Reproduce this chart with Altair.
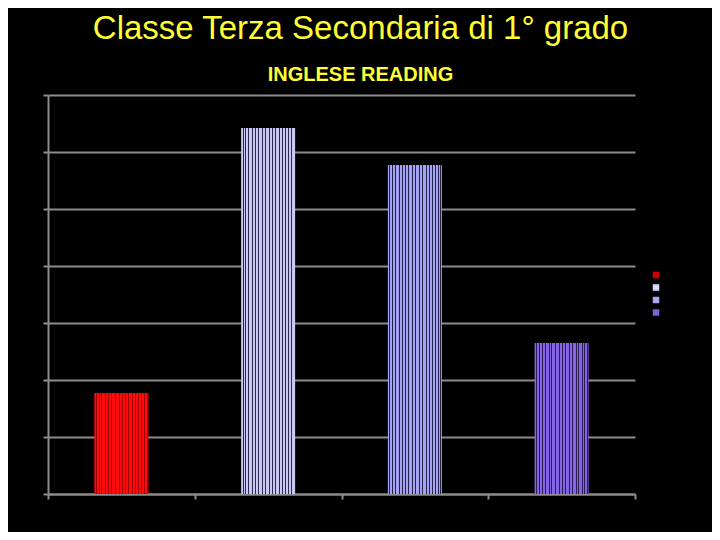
import altair as alt
import pandas as pd

categories = ["Classe", "Scuola", "Regione", "Italia"]
values = [17.7, 64.2, 57.7, 26.5]
bar_colors = ["#ff0a0a", "#c8c8f2", "#a4a4f2", "#8466e4"]
stripe_colors = ["#a00000", "#2a2a50", "#22224a", "#2a1a58"]
legend_colors = ["#d00000", "#d8d8fa", "#a8a8f0", "#8062d4"]

df = pd.DataFrame({"cat": categories, "val": values})

# stripe layout within each bar (styling only)
stripe_pos = [0.03, 0.08, 0.13, 0.2, 0.26, 0.31, 0.38, 0.45, 0.51, 0.57, 0.63, 0.7,
              0.76, 0.81, 0.87, 0.92, 0.97]
stripe_w = 0.018


def gradient(base, dark):
    stops = [alt.GradientStop(offset=0, color=base)]
    for p in stripe_pos:
        stops += [
            alt.GradientStop(offset=p, color=base),
            alt.GradientStop(offset=p, color=dark),
            alt.GradientStop(offset=p + stripe_w, color=dark),
            alt.GradientStop(offset=p + stripe_w, color=base),
        ]
    stops.append(alt.GradientStop(offset=1, color=base))
    return alt.LinearGradient(gradient="linear", x1=0, x2=1, y1=0, y2=0, stops=stops)


x_enc = alt.X(
    "cat:N", sort=categories, title=None,
    scale=alt.Scale(paddingInner=0, paddingOuter=0),
    axis=alt.Axis(labels=False, tickBand="extent", tickSize=5, tickColor="#8c8c8c",
                  domainColor="#8c8c8c", domainWidth=2, tickWidth=2, grid=False),
)
y_enc = alt.Y(
    "val:Q", title=None,
    scale=alt.Scale(domain=[0, 70]),
    axis=alt.Axis(labels=False, values=[0, 10, 20, 30, 40, 50, 60, 70], tickSize=5,
                  tickColor="#8c8c8c", domainColor="#8c8c8c", domainWidth=2, tickWidth=2,
                  gridColor="#8c8c8c", gridWidth=2, gridOpacity=1),
)

base_layer = alt.Chart(df).mark_bar(width=54, opacity=0).encode(
    x=x_enc, y=y_enc,
    color=alt.Color(
        "cat:N", sort=categories, title=None,
        scale=alt.Scale(domain=categories, range=legend_colors),
        legend=alt.Legend(orient="none", legendX=604, legendY=176, labelExpr="''",
                          symbolType="square", symbolSize=42, symbolStrokeWidth=0,
                          labelFontSize=8, rowPadding=4.5, padding=0, symbolOpacity=1),
    ),
)

layers = [base_layer]
for c, b, d in zip(categories, bar_colors, stripe_colors):
    layers.append(
        alt.Chart(df).transform_filter(alt.datum.cat == c)
        .mark_bar(width=54, fill=gradient(b, d))
        .encode(x=x_enc, y=y_enc)
    )

chart = alt.layer(*layers).properties(
    width=587, height=399,
    autosize=alt.AutoSizeParams(type="none"),
    padding={"left": 40, "top": 87, "right": 77, "bottom": 38},
    background="black",
    title=alt.TitleParams(
        text="Classe Terza Secondaria di 1° grado",
        subtitle="INGLESE READING",
        fontSize=33, font="Liberation Sans", fontWeight="normal", color="#ffff33",
        subtitleFontSize=20, subtitleFont="Liberation Sans", subtitleFontWeight="bold",
        subtitleColor="#ffff33", subtitlePadding=19,
        anchor="middle", dx=19, offset=9,
    ),
).configure_view(stroke=None)

chart.save("out.html", embed_options={"renderer": "svg", "actions": False})
